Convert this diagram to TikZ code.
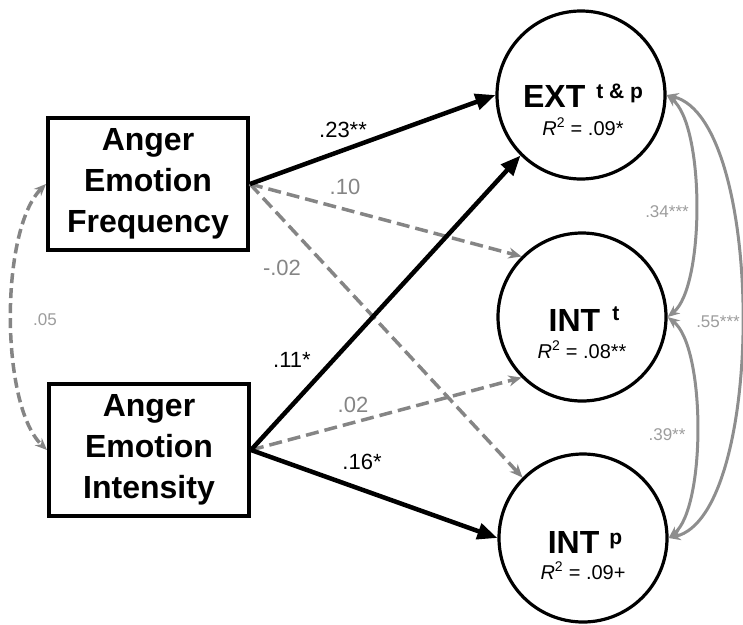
\documentclass[tikz,border=0pt]{standalone}
\usepackage{fontspec}
\setmainfont{Liberation Sans}
\usetikzlibrary{arrows.meta}
\definecolor{pathgray}{HTML}{858585}
\definecolor{covgray}{HTML}{8E8E8E}
\definecolor{lblgray}{HTML}{9C9C9C}
\begin{document}
\begin{tikzpicture}[x=1pt,y=-1pt,
  varbox/.style={draw, line width=4pt, minimum width=200pt, minimum height=132pt,
    inner sep=0pt, align=center, font=\bfseries\fontsize{32}{41}\selectfont},
  latent/.style={draw, circle, line width=3.2pt, minimum size=168pt, inner sep=0pt},
  sigpath/.style={line width=4.5pt, -{Triangle[length=20pt,width=16pt]}},
  nspath/.style={draw=pathgray, line width=3.5pt, dash pattern=on 13pt off 6pt,
    -{Stealth[length=13pt,width=11pt]}},
  covarc/.style={draw=covgray, line width=3pt,
    {Stealth[length=12pt,width=10pt]}-{Stealth[length=12pt,width=10pt]}},
  nscov/.style={draw=pathgray, line width=3.5pt, dash pattern=on 10pt off 5pt,
    {Stealth[length=12pt,width=10pt]}-{Stealth[length=12pt,width=10pt]}},
  mainlbl/.style={anchor=base, inner sep=0pt, font=\bfseries\fontsize{32}{32}\selectfont},
  rsq/.style={anchor=base, inner sep=0pt, font=\fontsize{20}{20}\selectfont},
  coef/.style={inner sep=0pt, font=\fontsize{22}{22}\selectfont},
  coefns/.style={coef, text=pathgray},
  covlbl/.style={inner sep=0pt, text=lblgray, font=\fontsize{17}{17}\selectfont},
]
\useasboundingbox (0,0) rectangle (743,624);

% observed predictors
\node[varbox] (freq) at (148,184) {Anger\\Emotion\\Frequency};
\node[varbox] (inten) at (149,450) {Anger\\Emotion\\Intensity};

% outcomes
\node[latent] (ext) at (581,95) {};
\node[latent] (intt) at (582,317) {};
\node[latent] (intp) at (583,538) {};

\node[mainlbl] (extlbl) at (583,107) {EXT\hspace{11pt}\raisebox{9pt}{\fontsize{21}{21}\selectfont t \& p}};
\node[rsq] (extr2) at (583,135) {\textit{R}\textsuperscript{2} = .09*};
\node[mainlbl] (inttlbl) at (584,331) {INT\hspace{12pt}\raisebox{11pt}{\fontsize{21}{21}\selectfont t}};
\node[rsq] (inttr2) at (582,358) {\textit{R}\textsuperscript{2} = .08**};
\node[mainlbl] (intplbl) at (585,553) {INT\hspace{10pt}\raisebox{9pt}{\fontsize{21}{21}\selectfont p}};
\node[rsq] (intpr2) at (583,579) {\textit{R}\textsuperscript{2} = .09+};

% paths
\draw[nspath] (freq.east) -- (intt.north west);
\draw[nspath] (freq.east) -- (intp.north west);
\draw[nspath] (inten.east) -- (intt.south west);
\draw[sigpath] (freq.east) -- (ext.west);
\draw[sigpath] (inten.east) -- (ext.south west);
\draw[sigpath] (inten.east) -- (intp.west);

% path coefficients
\node[coef] (c23) at (343,130) {.23**};
\node[coefns] (c10) at (345,187) {.10};
\node[coefns] (c02n) at (282,268) {-.02};
\node[coef] (c11) at (292,360) {.11*};
\node[coefns] (c02) at (353,405) {.02};
\node[coef] (c16) at (362,462) {.16*};

% covariances
\draw[nscov] (freq.west) .. controls (0,230) and (0,405) .. (inten.west);
\node[covlbl] (cv05) at (45,320) {.05};

\draw[covarc] (ext.east) .. controls (705,125) and (705,287) .. (intt.east);
\draw[covarc] (intt.east) .. controls (706,347) and (706,508) .. (intp.east);
\draw[covarc] (ext.east) .. controls (766,120) and (766,515) .. (intp.east);
\node[covlbl] (cv34) at (667,212) {.34***};
\node[covlbl] (cv39) at (667,435) {.39**};
\node[covlbl] (cv55) at (718,322) {.55***};
\end{tikzpicture}
\end{document}
